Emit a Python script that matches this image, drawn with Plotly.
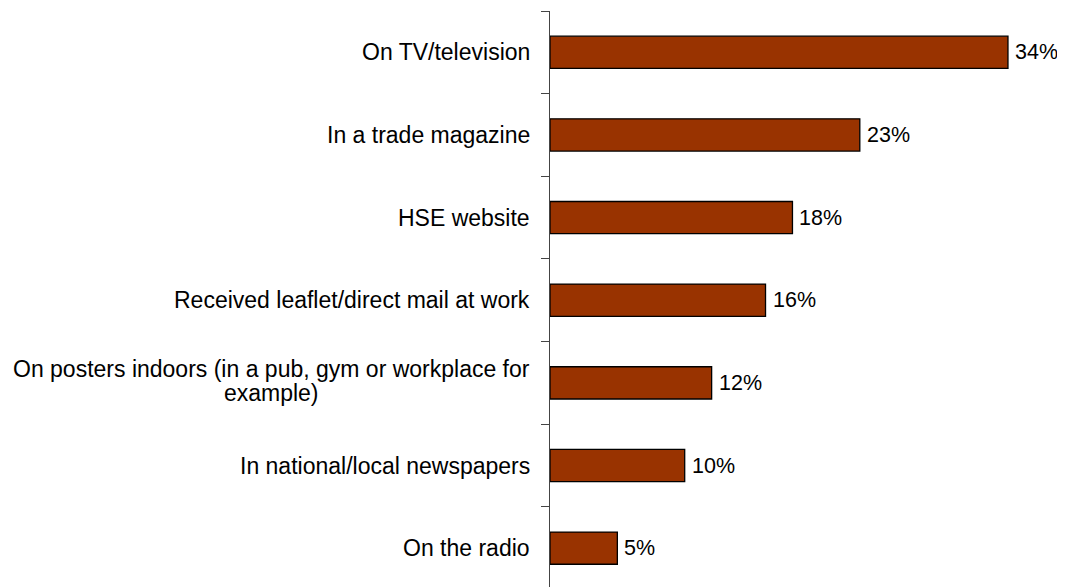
import plotly.graph_objects as go

categories = [
    "On TV/television",
    "In a trade magazine",
    "HSE website",
    "Received leaflet/direct mail at work",
    "On posters indoors (in a pub, gym or workplace for<br>example)",
    "In national/local newspapers",
    "On the radio",
]
values = [34, 23, 18, 16, 12, 10, 5]
value_labels = ["34%", "23%", "18%", "16%", "12%", "10%", "5%"]

FONT = "Liberation Sans, Arial, sans-serif"
LABEL_SIZE = 23
LINE_GAP = 24  # desired spacing between wrapped label lines

fig = go.Figure()
fig.add_trace(go.Bar(
    x=values,
    y=categories,
    orientation="h",
    marker=dict(color="#993300", line=dict(color="#000000", width=1.3)),
    width=0.39,
    hoverinfo="skip",
))

annotations = []
for c in categories:
    lines = c.split("<br>")
    if len(lines) == 1:
        annotations.append(dict(
            x=0, xref="paper", y=c, yref="y",
            text=c, showarrow=False, xanchor="right", yanchor="middle",
            xshift=-18,
            font=dict(family=FONT, size=LABEL_SIZE, color="#000000"),
        ))
    else:
        txt = "<br>".join(
            '<span style="font-size:%dpx">%s</span>' % (LABEL_SIZE, ln) for ln in lines
        )
        annotations.append(dict(
            x=0, xref="paper", y=c, yref="y",
            text=txt, showarrow=False, xanchor="right", yanchor="middle",
            align="center", xshift=-18, yshift=2,
            font=dict(family=FONT, size=LINE_GAP / 1.3, color="#000000"),
        ))

for c, v, t in zip(categories, values, value_labels):
    annotations.append(dict(
        x=v, xref="x", y=c, yref="y",
        text=t, showarrow=False, xanchor="left", yanchor="middle",
        xshift=5,
        font=dict(family=FONT, size=21.5, color="#000000"),
    ))

fig.update_layout(
    width=1057, height=579,
    margin=dict(l=542, r=15, t=3, b=0),
    paper_bgcolor="white", plot_bgcolor="white",
    showlegend=False,
    annotations=annotations,
    font=dict(family=FONT, size=21, color="#000000"),
    xaxis=dict(range=[0, 37.12], visible=False, showgrid=False, zeroline=False),
    yaxis=dict(
        type="category",
        categoryorder="array", categoryarray=categories,
        range=[6.47, -0.5],
        showticklabels=False,
        showline=True, linecolor="#444444", linewidth=1,
        ticks="outside", ticklen=8, tickcolor="#444444", tickwidth=1,
        tickson="boundaries",
        showgrid=False, zeroline=False,
    ),
)

fig.write_html("out.html")
